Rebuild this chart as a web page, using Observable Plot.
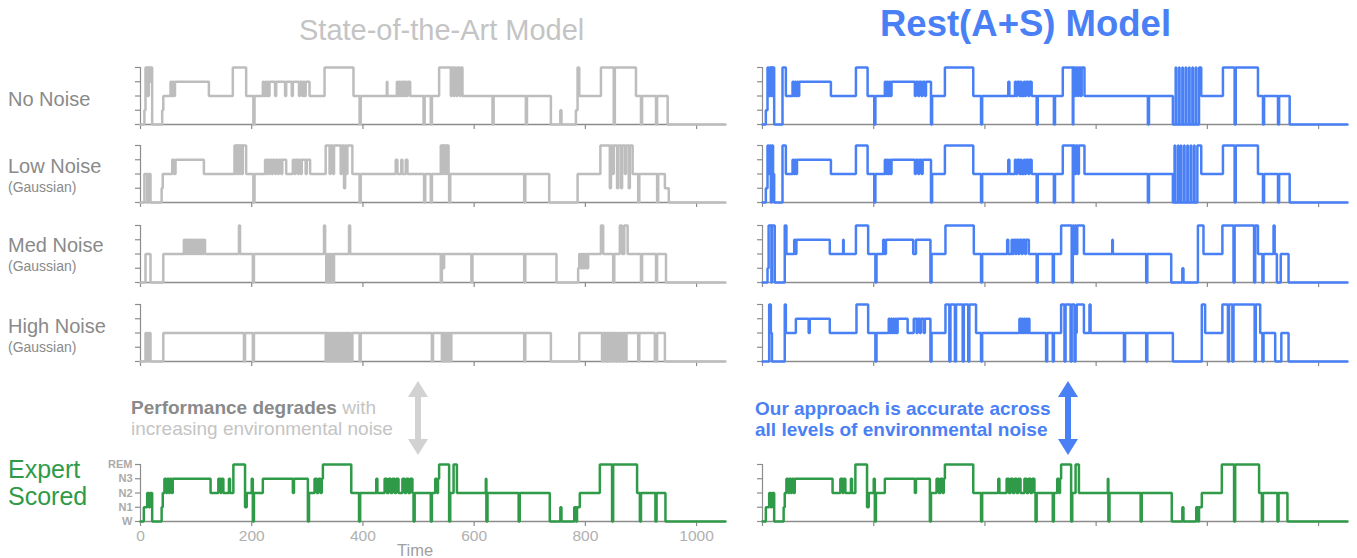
<!DOCTYPE html>
<html><head><meta charset="utf-8">
<script src="https://cdn.jsdelivr.net/npm/d3@7"></script>
<script src="https://cdn.jsdelivr.net/npm/@observablehq/plot@0.6"></script>
<style>
body{margin:0;background:#fff;font-family:"Liberation Sans",Arial,sans-serif;}
#root{position:relative;width:1357px;height:558px;overflow:hidden;background:#fff;}
.abs{position:absolute;white-space:nowrap;line-height:1;}
.abs svg{display:block;}
</style></head><body><div id="root"></div>
<script>
// ---------- data ----------
const W = 0, N1 = 1, N2 = 2, N3 = 3, R = 4;
const stageLabels = ["W", "N1", "N2", "N3", "REM"];
const timeTicks = [0, 200, 400, 600, 800, 1000];
const timeEnd = 1052;
const columnTitles = ["State-of-the-Art Model", "Rest(A+S) Model"];
const rowNames = ["No Noise", "Low Noise", "Med Noise", "High Noise"];
const rowSubs = ["", "(Gaussian)", "(Gaussian)", "(Gaussian)"];

const expert = [[0,W],[6,N1],[12,N2],[15,N1],[17,N2],[21,W],[38,N1],[40,N2],[43,N3],[46,N2],[48,N3],[51,N2],[53,N3],[56,N2],[58,N3],[126,N2],[140,N3],[144,N2],[146,N3],[149,N2],[159,N3],[161,N2],[167,R],[188,N1],[191,N2],[200,N3],[202,W],[204,N2],[220,N3],[274,N2],[276,N3],[301,W],[303,N2],[313,N3],[317,N2],[320,N3],[324,N2],[326,N3],[328,R],[379,N2],[393,W],[395,N2],[424,N3],[426,N2],[439,N3],[443,N2],[446,N3],[450,N2],[453,N3],[457,N2],[460,N3],[464,N2],[471,N3],[475,N2],[478,N3],[482,N2],[485,N3],[489,N2],[491,W],[493,N2],[522,W],[524,N2],[530,N3],[533,N2],[535,N3],[537,R],[555,W],[557,N2],[563,R],[569,N2],[621,N3],[622,W],[624,N2],[680,W],[682,N2],[736,W],[755,N1],[757,W],[780,N1],[783,W],[785,N1],[790,N2],[826,R],[848,W],[850,R],[893,N2],[898,W],[900,N2],[926,W],[928,N2],[944,W]];

const sotaNone = [[0,W],[7,N1],[9,R],[11,N2],[12,R],[14,N2],[15,R],[17,N3],[18,R],[21,W],[39,N1],[41,N2],[54,N3],[56,N2],[58,N3],[60,N2],[62,N3],[123,N2],[166,R],[190,N2],[203,W],[205,N2],[220,N3],[222,N2],[224,N3],[226,N2],[228,N3],[230,N2],[232,N3],[242,N2],[244,N3],[260,N2],[262,N3],[272,N2],[274,N3],[285,N2],[287,N3],[291,N2],[293,N3],[295,N2],[297,N3],[304,N2],[331,R],[383,N2],[394,W],[396,N2],[443,N3],[444,N2],[461,N3],[463,N2],[465,N3],[467,N2],[469,N3],[471,N2],[473,N3],[475,N2],[477,N3],[479,N2],[481,N3],[485,N2],[509,W],[511,N2],[522,W],[524,N2],[537,R],[558,N2],[560,R],[563,N2],[565,R],[568,N2],[570,R],[574,N2],[576,R],[579,N2],[633,W],[635,N2],[693,W],[695,N2],[738,W],[755,N1],[757,W],[783,N1],[786,R],[789,N2],[828,R],[851,W],[853,R],[891,N2],[900,W],[902,N2],[927,W],[929,N2],[948,W]];

const sotaLow = [[0,W],[7,N2],[12,W],[14,N2],[18,W],[38,N1],[40,N2],[57,N3],[60,N2],[63,N3],[114,N2],[169,R],[171,N2],[172,R],[174,N2],[175,R],[177,N2],[178,R],[180,N2],[181,R],[183,N2],[184,R],[190,N2],[203,W],[205,N2],[224,N3],[226,N2],[228,N3],[231,N2],[233,N3],[236,N2],[238,N3],[242,N2],[244,N3],[247,N2],[249,N3],[253,N2],[255,N3],[262,N2],[274,N3],[277,N2],[279,N3],[283,N2],[285,N3],[288,N2],[290,N3],[297,N2],[299,N3],[305,N2],[333,R],[340,N2],[342,R],[346,N2],[348,R],[360,N2],[362,R],[366,N1],[368,R],[370,N2],[372,R],[381,N2],[394,W],[396,N2],[459,N3],[462,N2],[469,N3],[471,N2],[477,N3],[480,N2],[510,W],[512,N2],[522,W],[524,N2],[540,R],[542,N2],[543,R],[545,N2],[546,R],[548,N2],[549,R],[551,N2],[552,R],[554,N2],[555,W],[557,N2],[690,W],[692,N2],[735,W],[786,N2],[827,R],[844,N1],[846,R],[849,N2],[851,R],[857,N1],[859,R],[864,N1],[866,R],[871,N2],[873,R],[878,N1],[880,R],[885,N2],[895,W],[897,N2],[929,W],[931,N2],[943,N1],[950,W]];

const sotaMed = [[0,W],[9,N2],[18,W],[41,N2],[78,N3],[80,N2],[82,N3],[84,N2],[86,N3],[88,N2],[90,N3],[92,N2],[94,N3],[96,N2],[98,N3],[100,N2],[102,N3],[104,N2],[106,N3],[108,N2],[110,N3],[112,N2],[114,N3],[116,N2],[177,R],[179,N2],[202,W],[204,N2],[330,R],[332,N2],[334,W],[336,N2],[338,W],[340,N2],[342,W],[344,N2],[346,W],[348,N2],[375,R],[377,N2],[540,W],[542,N2],[544,N1],[546,N2],[595,W],[597,N2],[690,W],[692,N2],[748,W],[787,N1],[789,N2],[791,N1],[793,N2],[795,N1],[797,N2],[799,N1],[801,N2],[803,N1],[805,N2],[828,R],[832,N2],[850,W],[852,N2],[862,R],[866,N2],[870,R],[876,N2],[900,W],[902,N2],[927,W],[929,N2],[945,W]];

const sotaHigh = [[0,W],[9,N2],[13,W],[15,N2],[18,W],[41,N2],[186,W],[188,N2],[202,W],[204,N2],[333,W],[334,N2],[336,W],[337,N2],[339,W],[341,N2],[343,W],[345,N2],[347,W],[349,N2],[351,W],[353,N2],[355,W],[357,N2],[359,W],[360,N2],[362,W],[364,N2],[366,W],[368,N2],[370,W],[372,N2],[374,W],[376,N2],[378,W],[381,N2],[394,W],[396,N2],[524,W],[526,N2],[542,W],[543,N2],[545,W],[546,N2],[548,W],[549,N2],[551,W],[552,N2],[554,W],[555,N2],[557,W],[559,N2],[690,W],[692,N2],[738,W],[789,N2],[830,W],[832,N2],[836,W],[838,N2],[840,W],[842,N2],[845,W],[847,N2],[850,W],[852,N2],[856,W],[858,N2],[861,W],[863,N2],[867,W],[869,N2],[872,W],[874,N2],[895,W],[897,N2],[925,W],[929,N2],[943,W]];

const restNone = [[0,W],[6,N1],[9,R],[11,N2],[13,R],[15,N2],[16,R],[18,N2],[19,R],[21,W],[36,R],[42,N2],[54,N3],[56,N2],[58,N3],[60,N2],[62,N3],[64,N2],[66,N3],[123,N2],[168,R],[189,N2],[201,W],[203,N2],[220,N3],[222,N2],[224,N3],[226,N2],[228,N3],[230,N2],[232,N3],[274,N2],[276,N3],[280,N2],[282,N3],[286,N2],[288,N3],[292,N2],[294,N3],[303,W],[305,N2],[328,R],[379,N2],[393,W],[395,N2],[442,N3],[444,N2],[454,N3],[456,N2],[458,N3],[462,N2],[464,N3],[466,N2],[470,N3],[472,N2],[474,N3],[478,N2],[480,N3],[484,N2],[493,W],[495,N2],[524,W],[526,N2],[540,R],[558,W],[559,R],[562,N2],[564,R],[567,N2],[569,R],[572,N2],[574,R],[579,N2],[693,W],[695,N2],[738,W],[743,R],[744,W],[749,R],[750,W],[755,R],[756,W],[761,R],[762,W],[767,R],[768,W],[773,R],[774,W],[779,R],[780,W],[785,R],[789,N2],[828,R],[849,W],[851,R],[891,N2],[900,W],[902,N2],[927,W],[929,N2],[948,W]];

const restLow = [[0,W],[6,N1],[9,R],[11,N2],[13,R],[15,W],[17,R],[19,N2],[21,W],[36,R],[42,N2],[54,N3],[56,N2],[58,N3],[60,N2],[62,N3],[123,N2],[168,R],[189,N2],[201,W],[203,N2],[220,N3],[222,N2],[224,N3],[226,N2],[228,N3],[230,N2],[232,N3],[274,N2],[276,N3],[280,N2],[282,N3],[286,N2],[288,N3],[294,N3],[303,W],[305,N2],[328,R],[379,N2],[393,W],[395,N2],[442,N3],[444,N2],[454,N3],[456,N2],[458,N3],[462,N2],[464,N3],[466,N2],[470,N3],[472,N2],[474,N3],[478,N2],[480,N3],[484,N2],[493,W],[495,N2],[524,W],[526,N2],[540,R],[558,W],[559,R],[562,N2],[564,R],[567,N2],[569,R],[579,N2],[693,W],[695,N2],[738,W],[741,R],[742,W],[747,R],[748,W],[752,R],[753,W],[758,R],[759,W],[764,R],[765,W],[770,R],[771,W],[776,R],[777,W],[782,R],[789,N2],[828,R],[849,W],[851,R],[891,N2],[900,W],[902,N2],[927,W],[929,N2],[948,W]];

const restMed = [[0,W],[9,N1],[11,R],[16,W],[17,R],[22,W],[40,R],[43,N2],[57,N3],[59,N2],[61,N3],[121,N2],[145,N3],[146,N2],[168,R],[190,N2],[203,W],[205,N2],[217,N3],[219,N2],[222,N3],[271,N2],[276,N3],[302,W],[304,N2],[329,R],[380,N2],[393,W],[395,N2],[440,N3],[442,N2],[448,N3],[450,N2],[452,N3],[455,N2],[457,N3],[460,N2],[462,N3],[466,N2],[468,N3],[472,N2],[474,N3],[479,N2],[493,W],[495,N2],[522,W],[524,N2],[537,R],[556,W],[558,R],[560,N2],[562,R],[564,N2],[566,R],[578,N2],[629,N3],[630,N2],[690,W],[692,N2],[735,W],[755,N1],[757,W],[783,R],[793,N2],[827,R],[847,W],[849,R],[884,W],[886,R],[891,N2],[899,W],[901,N2],[919,R],[921,N2],[925,W],[932,N2],[946,W]];

const restHigh = [[0,W],[12,R],[15,N2],[17,W],[40,R],[42,N2],[60,N3],[83,N2],[85,N3],[121,N2],[169,R],[190,N2],[203,W],[205,N2],[227,N3],[229,N2],[231,N3],[233,N2],[235,N3],[237,N2],[239,N3],[241,N2],[243,N3],[261,N2],[272,N3],[277,N2],[279,N3],[283,N2],[285,N3],[290,N2],[292,N3],[302,W],[304,N2],[329,R],[336,W],[338,R],[346,W],[348,R],[360,W],[362,R],[370,W],[372,R],[384,N2],[393,W],[395,N2],[462,N3],[464,N2],[466,N3],[468,N2],[470,N3],[472,N2],[474,N3],[476,N2],[478,N3],[480,N2],[483,N2],[510,W],[512,N2],[522,W],[524,N2],[537,R],[543,W],[545,R],[554,W],[556,R],[561,W],[563,N2],[565,R],[578,N2],[588,R],[590,N2],[650,W],[652,N2],[690,W],[692,N2],[738,W],[790,R],[796,N2],[827,R],[837,W],[839,R],[845,W],[847,R],[885,W],[887,R],[895,N2],[899,W],[901,N2],[922,W],[933,N2],[946,W]];

// ---------- layout ----------
const root = document.getElementById("root");
const grey = "#bdbdbd", blue = "#4a80f5", green = "#2f9a48";
const axisColor = "#8c8c8c";
const panelLeft = [100, 722];
const remTop = [66.5, 145, 225, 304, 464];
const bandH = 57;

function place(node, x, y) {
  const d = document.createElement("div");
  d.className = "abs";
  d.style.left = x + "px";
  d.style.top = y + "px";
  d.appendChild(node);
  root.appendChild(d);
  return d;
}
function text(html, x, y, css) {
  const d = document.createElement("div");
  d.className = "abs";
  d.style.left = x + "px";
  d.style.top = y + "px";
  d.style.cssText += css;
  d.innerHTML = html;
  root.appendChild(d);
  return d;
}
function expand(series) {
  const pts = series.map(([t, s]) => ({t, s}));
  pts.push({t: timeEnd, s: series[series.length - 1][1]});
  return pts;
}

function panel(series, color, col, row, labels) {
  const mt = 6, mb = labels ? 34 : 7;
  const chart = Plot.plot({
    width: 630, height: bandH + mt + mb,
    marginLeft: 40, marginRight: 5, marginTop: mt, marginBottom: mb,
    style: {fontFamily: "'Liberation Sans', Arial, sans-serif", background: "transparent", overflow: "visible"},
    x: {domain: [0, timeEnd]},
    y: {domain: [0, 4]},
    marks: [
      Plot.axisX(timeTicks, {tickSize: 5, tickPadding: 3, stroke: axisColor, strokeWidth: 1.2,
        tickFormat: labels ? (d => String(d)) : (() => ""), fontSize: 15.5, fill: "#b0b0b0", label: null}),
      Plot.axisY([0, 1, 2, 3, 4], {tickSize: 5, tickPadding: 3, stroke: axisColor, strokeWidth: 1.2,
        tickFormat: labels ? (d => stageLabels[d]) : (() => ""), fontSize: 11, fontWeight: "bold", fill: "#aaaaaa", label: null}),
      Plot.ruleX([0], {stroke: axisColor, strokeWidth: 1.2}),
      Plot.ruleY([0], {stroke: axisColor, strokeWidth: 1.6}),
      Plot.line(expand(series), {x: "t", y: "s", curve: "step-after", stroke: color, strokeWidth: 2.5, strokeLinejoin: "miter"})
    ]
  });
  place(chart, panelLeft[col], remTop[row] - mt);
}

const sotaSeries = [sotaNone, sotaLow, sotaMed, sotaHigh];
const restSeries = [restNone, restLow, restMed, restHigh];
sotaSeries.forEach((s, i) => panel(s, grey, 0, i, false));
restSeries.forEach((s, i) => panel(s, blue, 1, i, false));
panel(expert, green, 0, 4, true);
panel(expert, green, 1, 4, false);

// titles
text(columnTitles[0], 299, 16, "font-size:29px;color:#c4c4c4;");
text(columnTitles[1], 880, 6, "font-size:36.5px;color:" + blue + ";font-weight:bold;");

// row labels
const rowCenters = [99, 166, 245, 326];
rowNames.forEach((n, i) => {
  const top = rowCenters[i] - 10.5;
  text(n, 8, top, "font-size:20px;color:#8a8a8a;");
  if (rowSubs[i]) text(rowSubs[i], 8, top + 24, "font-size:14px;color:#8a8a8a;");
});
text("Expert", 8, 457, "font-size:25px;color:" + green + ";");
text("Scored", 8, 484, "font-size:25px;color:" + green + ";");
text("Time", 397, 542, "font-size:16.5px;color:#a0a0a0;");

// annotations
text('<b style="color:#8a8a8a">Performance degrades</b> with<br>increasing environmental noise', 131, 397,
  "font-size:19px;color:#c4c4c4;line-height:21px;");
text('Our approach is accurate across<br>all levels of environmental noise', 755, 398,
  "font-size:19px;color:" + blue + ";font-weight:bold;line-height:21px;");

function arrow(cx, color) {
  const ns = "http://www.w3.org/2000/svg";
  const svg = document.createElementNS(ns, "svg");
  svg.setAttribute("width", 24); svg.setAttribute("height", 74);
  const p = document.createElementNS(ns, "polygon");
  p.setAttribute("points", "12,0 22,16 15,16 15,58 22,58 12,74 2,58 9,58 9,16 2,16");
  p.setAttribute("fill", color);
  svg.appendChild(p);
  place(svg, cx - 12, 381);
}
arrow(418, "#d2d2d2");
arrow(1068, blue);
</script></body></html>
